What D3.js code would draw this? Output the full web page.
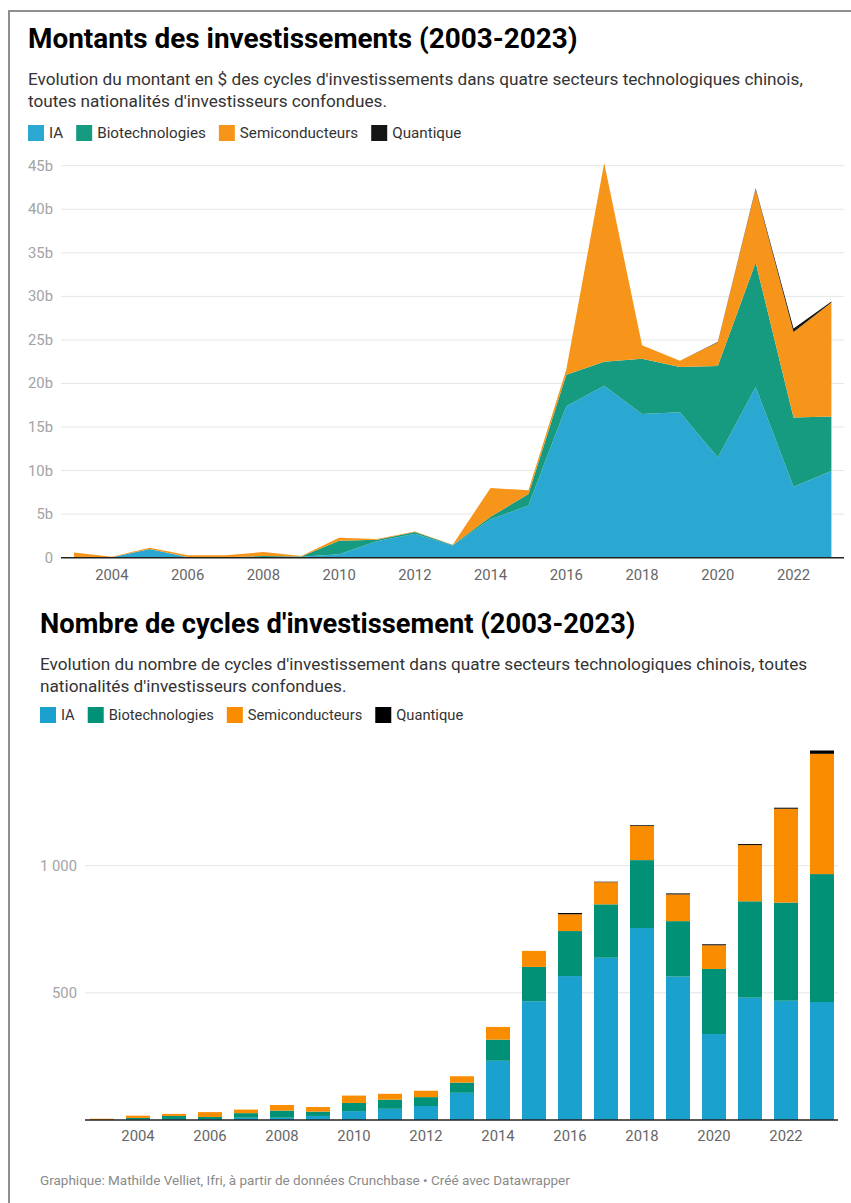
<!DOCTYPE html>
<html>
<head>
<meta charset="utf-8">
<script src="https://cdn.jsdelivr.net/npm/d3@7"></script>
<style>
  html, body { margin: 0; padding: 0; background: #fff; }
  svg { display: block; font-family: Roboto, "Noto Sans", sans-serif; }
</style>
</head>
<body>
<svg id="chart" width="851" height="1203"></svg>
<script>
// ---------- DATA ----------
const years = [2003,2004,2005,2006,2007,2008,2009,2010,2011,2012,2013,2014,2015,2016,2017,2018,2019,2020,2021,2022,2023];
const seriesNames = ["IA", "Biotechnologies", "Semiconducteurs", "Quantique"];

// Montants (milliards $)
const amountIA    = [0, 0.05, 1.0, 0.05, 0.02, 0.05, 0.1, 0.4, 1.9, 2.75, 1.4, 4.4, 6.0, 17.4, 19.75, 16.5, 16.7, 11.5, 19.6, 8.15, 9.95];
const amountBio   = [0, 0, 0, 0.02, 0.02, 0.15, 0.05, 1.55, 0.15, 0.2, 0.05, 0.3, 1.3, 3.6, 2.75, 6.35, 5.2, 10.5, 14.3, 7.95, 6.25];
const amountSemi  = [0.6, 0.05, 0.15, 0.2, 0.25, 0.45, 0.05, 0.35, 0.1, 0.05, 0.05, 3.3, 0.45, 0.6, 22.8, 1.55, 0.7, 2.7, 8.4, 9.8, 13.1];
const amountQuant = [0, 0, 0, 0, 0, 0, 0, 0, 0, 0, 0, 0, 0, 0, 0, 0, 0, 0.05, 0.1, 0.4, 0.1];

// Nombre de cycles
const countIA    = [0, 2, 4, 4, 9, 9, 16, 35, 44, 55, 107, 233, 467, 566, 638, 755, 564, 338, 481, 469, 464];
const countBio   = [0, 6, 12, 8, 18, 28, 17, 32, 36, 35, 40, 83, 135, 177, 210, 267, 218, 256, 379, 386, 503];
const countSemi  = [5, 9, 8, 19, 14, 22, 18, 29, 23, 25, 25, 50, 63, 66, 87, 134, 105, 93, 221, 369, 473];
const countQuant = [0, 0, 0, 0, 0, 0, 0, 0, 0, 0, 0, 0, 0, 5, 2, 3, 4, 4, 4, 4, 13];

const amountTicks = [0, 5, 10, 15, 20, 25, 30, 35, 40, 45];
const countTicks = [500, 1000];
const xTickYears = [2004, 2006, 2008, 2010, 2012, 2014, 2016, 2018, 2020, 2022];

// ---------- STYLE ----------
const areaColors = ["#2ba8d1", "#179b80", "#f7951a", "#141414"];
const barColors  = ["#1aa1cd", "#009176", "#fa8c00", "#000000"];

const svg = d3.select("#chart");

// Frame
svg.append("line").attr("x1", 8).attr("x2", 851).attr("y1", 11).attr("y2", 11)
  .attr("stroke", "#8f8f8f").attr("stroke-width", 2);
svg.append("line").attr("x1", 9).attr("x2", 9).attr("y1", 10).attr("y2", 1203)
  .attr("stroke", "#8f8f8f").attr("stroke-width", 2);

function header(x, yTitle, title, titleSize, lines, yLegend, legendSize, colors) {
  svg.append("text").attr("x", x).attr("y", yTitle)
    .attr("font-size", titleSize).attr("font-weight", 700).attr("fill", "#000")
    .text(title);
  lines.forEach((l, i) => {
    svg.append("text").attr("x", x).attr("y", yTitle + 37 + i * 22)
      .attr("font-size", 17.2).attr("fill", "#333").text(l);
  });
  let cx = x;
  seriesNames.forEach((n, i) => {
    svg.append("rect").attr("x", cx).attr("y", yLegend - 13).attr("width", 16).attr("height", 16)
      .attr("fill", colors[i]);
    const t = svg.append("text").attr("x", cx + 21).attr("y", yLegend)
      .attr("font-size", legendSize).attr("fill", "#333").text(n);
    cx += 21 + t.node().getComputedTextLength() + 13;
  });
}

// ---------- CHART 1 : stacked area ----------
header(28, 48,
  "Montants des investissements (2003-2023)", 27.9,
  ["Evolution du montant en $ des cycles d'investissements dans quatre secteurs technologiques chinois,",
   "toutes nationalités d'investisseurs confondues."],
  138, 15.2, areaColors);

const amountRows = years.map((y, i) => ({year: y, IA: amountIA[i], Biotechnologies: amountBio[i],
  Semiconducteurs: amountSemi[i], Quantique: amountQuant[i]}));
const amountStack = d3.stack().keys(seriesNames)(amountRows);

const x1 = d3.scaleLinear().domain([2003, 2023]).range([74, 831.4]);
const y1 = d3.scaleLinear().domain([0, 45]).range([557.7, 165.7]);

const g1 = svg.append("g");
g1.selectAll("line.grid").data(amountTicks.filter(d => d > 0)).join("line")
  .attr("x1", 61).attr("x2", 844).attr("y1", d => y1(d)).attr("y2", d => y1(d))
  .attr("stroke", "#e6e6e6").attr("stroke-width", 1);
g1.selectAll("text.yl").data(amountTicks).join("text")
  .attr("x", 53).attr("y", d => y1(d) + 5).attr("text-anchor", "end")
  .attr("font-size", 14.8).attr("fill", "#a3a3a3")
  .text(d => d === 0 ? "0" : d + "b");

const area = d3.area().x(d => x1(d.data.year)).y0(d => y1(d[0])).y1(d => y1(d[1]));
g1.selectAll("path.area").data(amountStack).join("path")
  .attr("d", area).attr("fill", (d, i) => areaColors[i]);

g1.append("line").attr("x1", 61).attr("x2", 844).attr("y1", y1(0)).attr("y2", y1(0))
  .attr("stroke", "#222").attr("stroke-width", 1.5);
g1.selectAll("text.xl").data(xTickYears).join("text")
  .attr("x", d => x1(d)).attr("y", 580).attr("text-anchor", "middle")
  .attr("font-size", 14.8).attr("fill", "#666").text(d => d);

// ---------- CHART 2 : stacked bars ----------
header(40, 633,
  "Nombre de cycles d'investissement (2003-2023)", 27.3,
  ["Evolution du nombre de cycles d'investissement dans quatre secteurs technologiques chinois, toutes",
   "nationalités d'investisseurs confondues."],
  720, 14.7, barColors);

const countRows = years.map((y, i) => ({year: y, IA: countIA[i], Biotechnologies: countBio[i],
  Semiconducteurs: countSemi[i], Quantique: countQuant[i]}));
const countStack = d3.stack().keys(seriesNames)(countRows);

const x2 = d3.scaleBand().domain(years).range([84, 840]).paddingInner(0.333).paddingOuter(0.1667);
const y2 = d3.scaleLinear().domain([0, 1000]).range([1120, 865.7]);

const g2 = svg.append("g");
g2.selectAll("line.grid").data(countTicks).join("line")
  .attr("x1", 85).attr("x2", 838).attr("y1", d => y2(d)).attr("y2", d => y2(d))
  .attr("stroke", "#e6e6e6").attr("stroke-width", 1);
g2.selectAll("text.yl").data(countTicks).join("text")
  .attr("x", 77).attr("y", d => y2(d) + 5).attr("text-anchor", "end")
  .attr("font-size", 14.8).attr("fill", "#a3a3a3")
  .text(d => d3.format(",")(d).replace(",", " "));

countStack.forEach((s, i) => {
  g2.append("g").selectAll("rect").data(s).join("rect")
    .attr("x", d => x2(d.data.year)).attr("width", x2.bandwidth())
    .attr("y", d => y2(d[1])).attr("height", d => Math.max(0, y2(d[0]) - y2(d[1])))
    .attr("fill", barColors[i]);
});

g2.append("line").attr("x1", 85).attr("x2", 838).attr("y1", y2(0)).attr("y2", y2(0))
  .attr("stroke", "#222").attr("stroke-width", 1.5);
g2.selectAll("text.xl").data(xTickYears).join("text")
  .attr("x", d => x2(d) + x2.bandwidth() / 2).attr("y", 1141).attr("text-anchor", "middle")
  .attr("font-size", 14.8).attr("fill", "#666").text(d => d);

// Footer
svg.append("text").attr("x", 40).attr("y", 1185).attr("font-size", 13.5).attr("fill", "#8a8a8a")
  .text("Graphique: Mathilde Velliet, Ifri, à partir de données Crunchbase • Créé avec Datawrapper");
</script>
</body>
</html>
